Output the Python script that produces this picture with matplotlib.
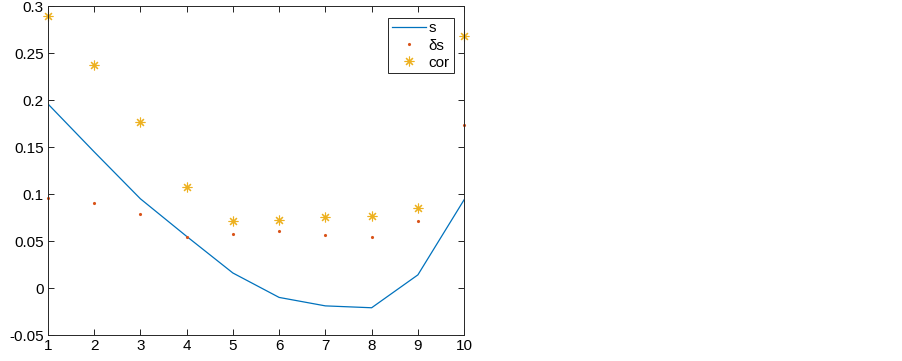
import numpy as np
import matplotlib.pyplot as plt

plt.rcParams['font.family'] = ['Liberation Sans', 'DejaVu Sans']

# data
x = np.arange(1, 11)
s = [0.196, 0.145, 0.095, 0.055, 0.016, -0.010, -0.019, -0.021, 0.014, 0.094]
ds = [0.096, 0.090, 0.079, 0.054, 0.057, 0.061, 0.056, 0.054, 0.071, 0.173]
cor = [0.290, 0.237, 0.177, 0.107, 0.071, 0.072, 0.076, 0.077, 0.085, 0.268]
xticks = list(range(1, 11))
yticks = [-0.05, 0, 0.05, 0.1, 0.15, 0.2, 0.25, 0.3]

fig = plt.figure(figsize=(9.03, 3.61), dpi=100)
ax = fig.add_axes([0.053, 0.072, 0.461, 0.911])

ax.plot(x, s, color='#0072BD', lw=0.9, label='s')
ax.plot(x, ds, ls='none', marker='.', ms=2.5, color='#D95319', label='δs', clip_on=False)
ax.plot(x, cor, ls='none', marker=(8, 2, 0), ms=7, mew=0.8, color='#EDB120', label='cor',
        clip_on=False)

ax.set_xlim(1, 10)
ax.set_ylim(-0.05, 0.3)
ax.set_xticks(xticks)
ax.set_yticks(yticks)
ax.set_yticklabels(['-0.05', '0', '0.05', '0.1', '0.15', '0.2', '0.25', '0.3'])
ax.tick_params(direction='in', top=True, right=True, labelsize=11, length=4, width=0.6, pad=3)
for sp in ax.spines.values():
    sp.set_linewidth(0.7)
    sp.set_color('#262626')

leg = ax.legend(loc='upper right', bbox_to_anchor=(0.975, 0.965), fontsize=11,
                fancybox=False, framealpha=1, edgecolor='#262626',
                handlelength=2.2, handletextpad=0.2, borderpad=0.25, labelspacing=0.2,
                borderaxespad=0)
leg.get_frame().set_linewidth(0.7)

fig.savefig('out.png', dpi=100)
